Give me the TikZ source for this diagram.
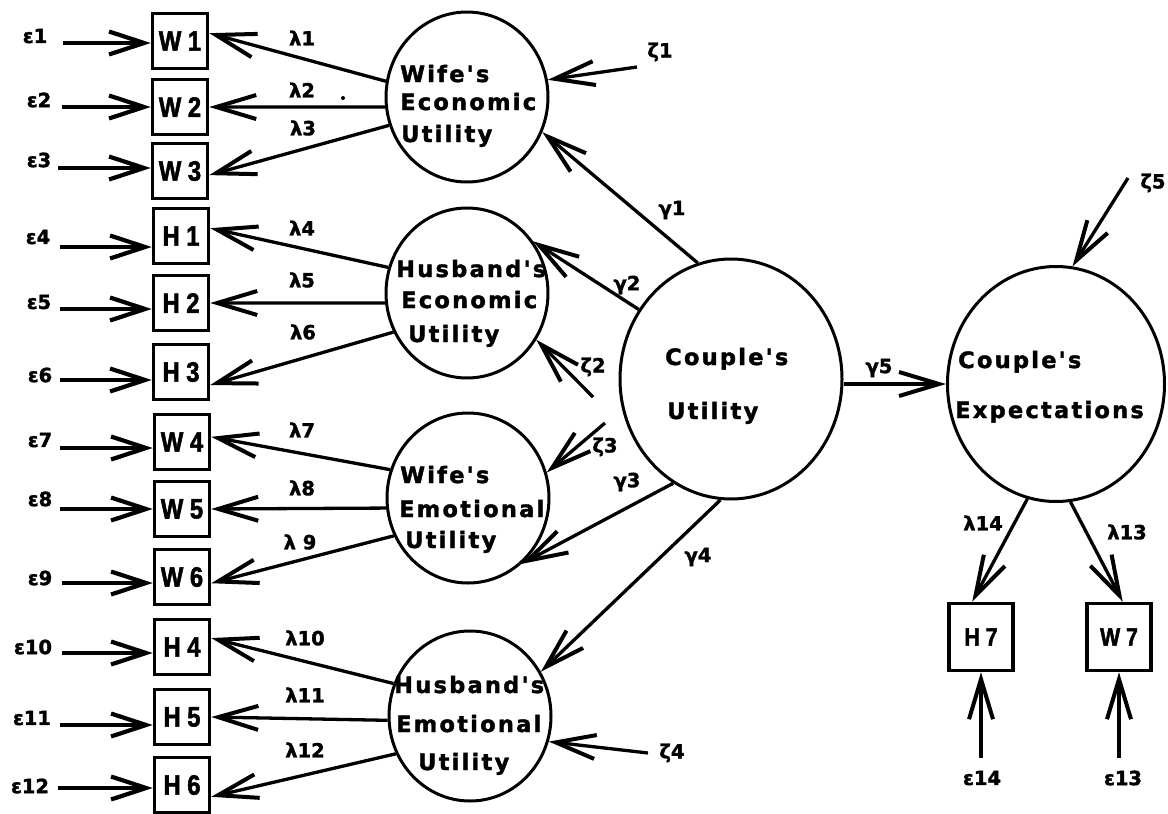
\documentclass[tikz,border=0pt]{standalone}
\usepackage{fontspec}
\setmainfont{DejaVu Sans}
\newfontfamily\cfont[LetterSpace=10,FakeBold=1.8]{DejaVu Sans}
\newfontfamily\gfont[FakeBold=1.6]{DejaVu Sans}
\newfontfamily\bfont[FakeStretch=0.85,FakeBold=1.8]{Liberation Sans}
\usetikzlibrary{arrows.meta,shapes.geometric}
\tikzset{
  obs/.style={draw, line width=3.5pt, rectangle, minimum width=55pt, minimum height=55pt,
    inner sep=0pt, font=\bfont\bfseries\fontsize{28}{28}\selectfont},
  obsr/.style={obs, minimum width=64pt, minimum height=67pt,
    font=\bfont\bfseries\fontsize{25}{25}\selectfont},
  lat/.style={draw, ellipse, line width=3pt, minimum width=162pt, minimum height=170pt, inner sep=0pt},
  latb/.style={lat, minimum width=222pt, minimum height=240pt},
  ctext/.style={anchor=base west, inner sep=0pt, font=\cfont\bfseries\fontsize{22.5}{24}\selectfont},
  glab/.style={inner sep=0pt, font=\gfont\bfseries\fontsize{19.5}{19.5}\selectfont},
  arr/.style={line width=3.3pt, -{Straight Barb[length=40pt,width=24pt,line width=4pt]}},
  earr/.style={line width=3.5pt, -{Straight Barb[length=35pt,width=23pt,line width=4.2pt]}},
}
\begin{document}
\begin{tikzpicture}[x=1pt,y=-1pt]
\useasboundingbox (0,0) rectangle (1168,814);
% observed indicators (left column)
\node[obs] (W1) at (180,41) {W 1};
\node[obs] (W2) at (180,107) {W 2};
\node[obs] (W3) at (180,171) {W 3};
\node[obs] (H1) at (181,236) {H 1};
\node[obs] (H2) at (181,303) {H 2};
\node[obs] (H3) at (181,372) {H 3};
\node[obs] (W4) at (182,442) {W 4};
\node[obs] (W5) at (182,509) {W 5};
\node[obs] (W6) at (182,577) {W 6};
\node[obs] (H4) at (182,647) {H 4};
\node[obs] (H5) at (182,717) {H 5};
\node[obs] (H6) at (182,785) {H 6};
% right indicators
\node[obsr] (H7) at (981,637) {H 7};
\node[obsr] (W7) at (1119,637) {W 7};
% latent variables
\node[lat] (WE) at (467,97) {};
\node[lat] (HE) at (467,293) {};
\node[lat] (WM) at (468,498) {};
\node[lat] (HM) at (470,716) {};
\node[latb] (CU) at (731,379) {};
\node[latb, minimum width=217pt, minimum height=235pt] (CE) at (1056,384) {};
% latent texts
\node[ctext] (WEa) at (400,82) {Wife's};
\node[ctext] (WEb) at (400,110) {Economic};
\node[ctext] (WEc) at (401,142) {Utility};
\node[ctext] (HEa) at (396,277) {Husband's};
\node[ctext] (HEb) at (401,308) {Economic};
\node[ctext] (HEc) at (408,342) {Utility};
\node[ctext] (WMa) at (400,483) {Wife's};
\node[ctext] (WMb) at (399,517) {Emotional};
\node[ctext] (WMc) at (405,548) {Utility};
\node[ctext] (HMa) at (394,693) {Husband's};
\node[ctext] (HMb) at (396,732) {Emotional};
\node[ctext] (HMc) at (418,770) {Utility};
\node[ctext] (CUa) at (665,365) {Couple's};
\node[ctext] (CUb) at (667,419) {Utility};
\node[ctext] (CEa) at (958,368) {Couple's};
\node[ctext] (CEb) at (955,418) {Expectations};
% error terms on the left
\foreach \b/\y/\x/\t/\lx/\ly in {W1/43/63/1/35/36, W2/107/62/2/39/100, W3/168/58/3/39/160,
  H1/247/60/4/38/237, H2/309/60/5/39/302, H3/380/60/6/40/375, W4/448/60/7/40/440,
  W5/509/60/8/40/499, W6/583/62/9/40/578, H4/653/62/10/33/647, H5/725/60/11/32/718,
  H6/788/58/12/30/786}{
  \coordinate (s\b) at (\x,\y);
  \node[glab] (e\t) at (\lx,\ly) {ε\t};
  \draw[earr] (s\b) -- (s\b -| \b.west);
}
% loadings
\draw[arr] (WE.169) -- (W1.15);
\draw[arr] (WE.187) -- (W2.east);
\draw[arr] (WE.200) -- (W3.-8);
\draw[arr] (HE.162) -- (H1.15);
\draw[arr] (HE.187) -- (H2.east);
\draw[arr] (HE.208) -- (H3.-24);
\draw[arr] (WM.160) -- (W4.10);
\draw[arr] (WM.187) -- (W5.east);
\draw[arr] (WM.207) -- (W6.-12);
\draw[arr] (HM.157) -- (H4.17);
\draw[arr] (HM.183) -- (H5.east);
\draw[arr] (HM.207) -- (H6.-22);
\draw[arr] (CE.256) -- (H7.104);
\draw[arr] (CE.277) -- (W7.84);
% structural paths
\draw[arr] (CU.106) -- (WE.-25);
\draw[arr] (CU.143) -- (HE.38);
\draw[arr] (CU.241) -- (WM.-51);
\draw[arr] (CU.265) -- (HM.32);
\draw[arr] (CU.east |- CE.west) -- (CE.west);
% disturbances
\coordinate (z1s) at (637,67);
\coordinate (z2s) at (593,397);
\coordinate (z3s) at (605,423);
\coordinate (z4s) at (648,753);
\coordinate (z5s) at (1128,178);
\draw[arr] (z1s) -- (WE.12);
\draw[arr] (z2s) -- (HE.-34);
\draw[arr] (z3s) -- (WM.18);
\draw[arr] (z4s) -- (HM.-18);
\draw[arr] (z5s) -- (CE.82);
\coordinate (e14s) at (981,758);
\coordinate (e13s) at (1119,758);
\draw[arr] (e14s) -- (H7.south);
\draw[arr] (e13s) -- (W7.south);
% labels
\node[glab] (l1) at (302,38) {λ1};
\node[glab] (l2) at (302,90) {λ2};
\node[circle, fill, inner sep=0pt, minimum size=4pt] (dot) at (343,98) {};
\node[glab] (l3) at (303,128) {λ3};
\node[glab] (l4) at (302,228) {λ4};
\node[glab] (l5) at (302,280) {λ5};
\node[glab] (l6) at (303,332) {λ6};
\node[glab] (l7) at (302,430) {λ7};
\node[glab] (l8) at (302,488) {λ8};
\node[glab] (l9) at (300,542) {λ 9};
\node[glab] (l10) at (305,638) {λ10};
\node[glab] (l11) at (305,695) {λ11};
\node[glab] (l12) at (305,750) {λ12};
\node[glab] (l14) at (983,523) {λ14};
\node[glab] (l13) at (1127,532) {λ13};
\node[glab] (g1) at (672,210) {γ1};
\node[glab] (g2) at (627,285) {γ2};
\node[glab] (g3) at (627,482) {γ3};
\node[glab] (g4) at (698,557) {γ4};
\node[glab] (g5) at (879,368) {γ5};
\node[glab] (z1) at (660,52) {ζ1};
\node[glab] (z2) at (593,367) {ζ2};
\node[glab] (z3) at (605,447) {ζ3};
\node[glab] (z4) at (672,753) {ζ4};
\node[glab] (z5) at (1153,183) {ζ5};
\node[glab] (e14) at (982,778) {ε14};
\node[glab] (e13) at (1123,778) {ε13};
\end{tikzpicture}
\end{document}
